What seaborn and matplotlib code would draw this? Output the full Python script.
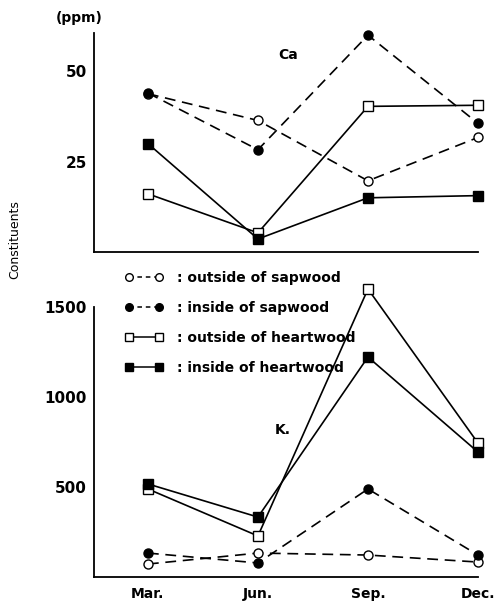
import matplotlib
matplotlib.use("Agg")
import matplotlib.pyplot as plt
import seaborn as sns
import pandas as pd
from matplotlib.lines import Line2D

sns.set_style("white")
plt.rcParams['font.family'] = ['DejaVu Sans']
plt.rcParams['text.color'] = 'black'
plt.rcParams['axes.labelcolor'] = 'black'
plt.rcParams['xtick.color'] = 'black'
plt.rcParams['ytick.color'] = 'black'

months = ["Mar.", "Jun.", "Sep.", "Dec."]
series_labels = [": outside of sapwood", ": inside of sapwood",
                 ": outside of heartwood", ": inside of heartwood"]

ca_out_sap = [43.8, 36.4, 19.7, 31.7]
ca_in_sap = [44.0, 28.3, 60.0, 35.6]
ca_out_heart = [16.1, 5.3, 40.3, 40.6]
ca_in_heart = [30.0, 3.6, 15.0, 15.6]

k_out_sap = [72, 133, 122, 83]
k_in_sap = [133, 78, 489, 122]
k_out_heart = [489, 228, 1600, 744]
k_in_heart = [517, 333, 1222, 694]

styles = [
    dict(linestyle=(0, (6.5, 4)), marker="o", markerfacecolor="white"),
    dict(linestyle=(0, (6.5, 4)), marker="o", markerfacecolor="black"),
    dict(linestyle="-", marker="s", markerfacecolor="white"),
    dict(linestyle="-", marker="s", markerfacecolor="black"),
]

fig = plt.figure(figsize=(4.97, 6.01), dpi=100)
ax1 = fig.add_axes([94/497, 1-252/601, (478-94)/497, (252-33)/601])
ax2 = fig.add_axes([94/497, 1-577/601, (478-94)/497, (577-307)/601])

def draw(ax, data):
    for vals, st in zip(data, styles):
        df = pd.DataFrame({"month": months, "value": vals})
        sns.lineplot(data=df, x="month", y="value", ax=ax, sort=False,
                     color="black", linewidth=1.2, markersize=6.5,
                     markeredgecolor="black", markeredgewidth=1.0,
                     clip_on=False, zorder=3, **st)
    ax.set_xlabel("")
    ax.set_ylabel("")
    for s in ["top", "right"]:
        ax.spines[s].set_visible(False)
    for s in ["left", "bottom"]:
        ax.spines[s].set_color("black")
        ax.spines[s].set_linewidth(1.3)
    ax.set_xlim(-0.49, 3.0)
    ax.tick_params(axis="both", direction="in", color="black", width=1.2,
                   labelcolor="black")
    ax.tick_params(axis="y", labelsize=11, pad=5)
    ax.tick_params(axis="x", labelsize=10, pad=7, length=7)

draw(ax1, [ca_out_sap, ca_in_sap, ca_out_heart, ca_in_heart])
draw(ax2, [k_out_sap, k_in_sap, k_out_heart, k_in_heart])

ax1.set_ylim(0, 60.6)
ax1.set_yticks([25, 50])
ax1.set_xticks(range(4))
ax1.set_xticklabels([])
ax1.tick_params(axis="y", length=9)

ax2.set_ylim(0, 1500)
ax2.set_yticks([500, 1000, 1500])
ax2.set_xticks(range(4))
ax2.set_xticklabels(months, fontweight="bold")
ax2.tick_params(axis="y", length=7)
for lab in ax2.get_yticklabels() + ax1.get_yticklabels():
    lab.set_fontweight("bold")

fig.text(79/497, 1-18/601, "(ppm)", ha="center", va="center", fontsize=10,
         fontweight="bold", color="black")
fig.text(15/497, 1-240/601, "Constituents", ha="center", va="center",
         rotation=90, fontsize=9, color="black")
fig.text(288/497, 1-55/601, "Ca", ha="center", va="center", fontsize=10,
         fontweight="bold", color="black")
fig.text(283/497, 1-430/601, "K.", ha="center", va="center", fontsize=10,
         fontweight="bold", color="black")

handles = [Line2D([0], [0], color="black", linewidth=1.1, markersize=5.5,
                  markeredgecolor="black", **st) for st in styles]
handles[0].set_linestyle((0, (3, 2.5)))
handles[1].set_linestyle((0, (3, 2.5)))
leg = fig.legend(handles, series_labels, loc="upper left",
                 bbox_to_anchor=(125/497, 1-271/601), bbox_transform=fig.transFigure,
                 frameon=False, numpoints=2, handlelength=2.75, handletextpad=1.0,
                 labelspacing=1.15, borderpad=0, borderaxespad=0,
                 prop={"weight": "bold", "size": 10})
for t in leg.get_texts():
    t.set_color("black")

fig.savefig("out.png", dpi=100)
